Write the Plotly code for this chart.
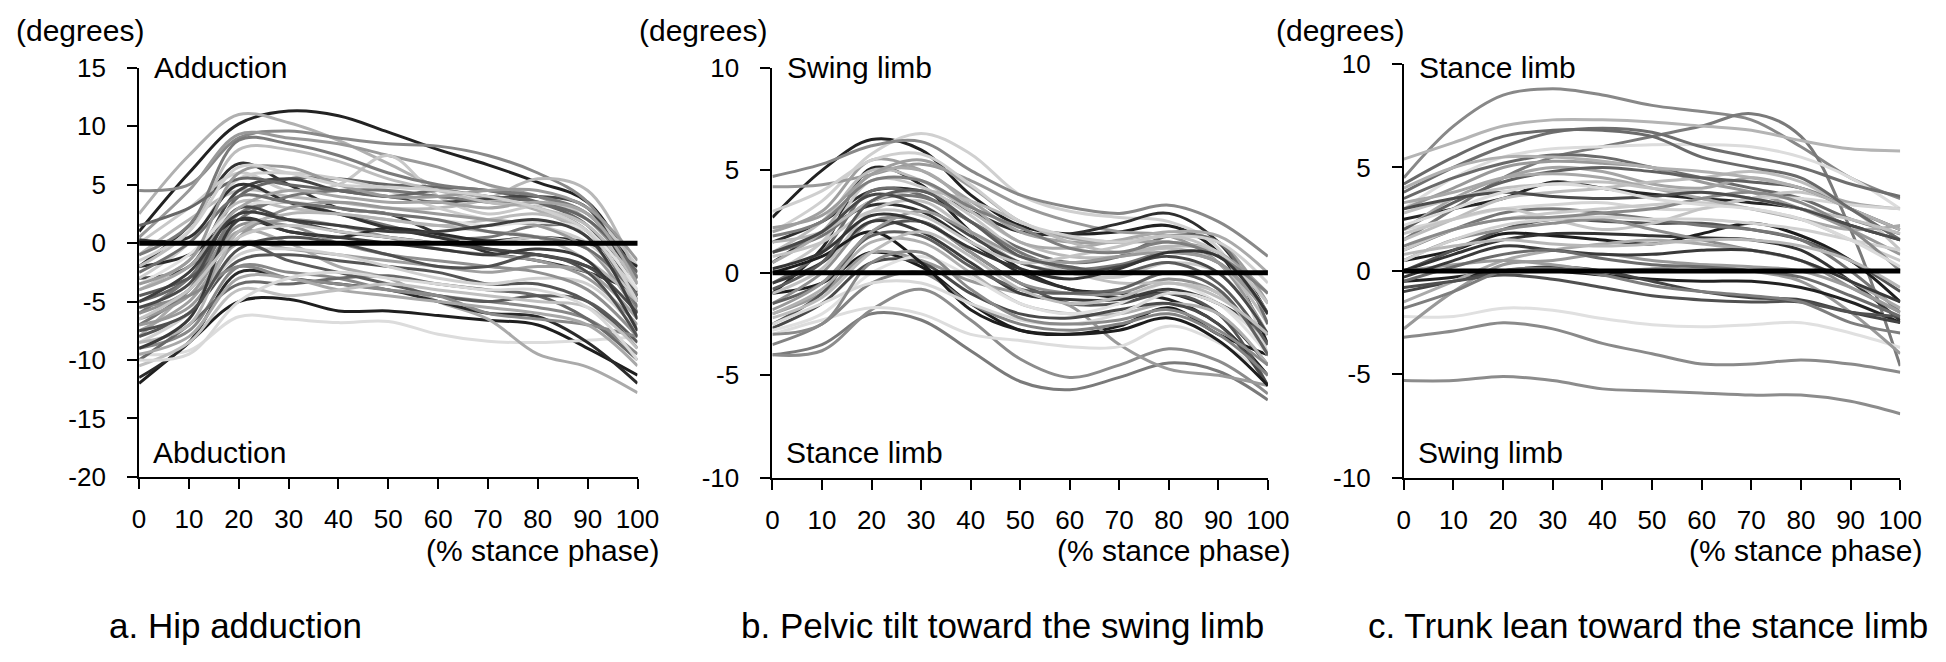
import plotly.graph_objects as go

# target picture is 1946x662; the page keeps its default 8px body margin,
# so the figure itself is 16px smaller and every position is shifted by 8px
W, H = 1946, 662
PAGE_MARGIN = 8
FIG_W, FIG_H = W - 2 * PAGE_MARGIN, H - 2 * PAGE_MARGIN
FONT = 'Liberation Sans, Arial, sans-serif'

stance_pct = [0, 10, 20, 30, 40, 50, 60, 70, 80, 90, 100]
tick_vals_x = [0, 10, 20, 30, 40, 50, 60, 70, 80, 90, 100]

# a. hip adduction (degrees), one row per subject
hip_curves = [
    [1.0, 6.0, 10.2, 11.3, 10.9, 9.5, 8.0, 6.7, 5.2, 3.5, -3.0],
    [2.5, 7.5, 11.0, 10.3, 8.8, 6.8, 4.8, 3.8, 2.8, 0.5, -6.0],
    [4.5, 5.0, 9.0, 9.6, 9.0, 8.5, 8.3, 7.5, 6.0, 3.5, -3.5],
    [0.5, 4.5, 9.3, 9.0, 8.5, 7.5, 6.5, 5.0, 4.0, 2.0, -3.0],
    [-2.0, 1.5, 6.8, 5.0, 3.0, 2.5, 0.8, -0.8, -1.5, -2.5, -4.2],
    [0.0, 3.0, 6.0, 4.5, 5.0, 7.5, 4.0, 2.5, 3.2, 2.5, -2.0],
    [-12.0, -8.5, -5.0, -4.8, -5.8, -5.8, -6.2, -6.6, -7.0, -9.0, -11.3],
    [-9.5, -9.2, -6.3, -6.5, -6.8, -6.7, -7.8, -8.4, -8.5, -8.3, -8.0],
    [-8.0, -4.0, 1.0, 0.0, -2.0, -3.0, -5.0, -6.5, -9.5, -10.6, -12.8],
    [-11.5, -8.5, -2.5, -3.0, -3.5, -4.0, -5.0, -6.0, -6.3, -8.5, -12.0],
    [-1.0, 2.0, 4.5, 4.0, 3.5, 3.0, 3.0, 3.8, 5.5, 4.5, -3.0],
    [-5.0, -3.0, 4.0, 5.5, 5.5, 5.0, 4.8, 4.5, 3.5, 1.5, -4.5],
    [-3.0, -2.0, 4.5, 5.5, 4.5, 4.0, 3.5, 3.8, 4.0, 3.0, -5.0],
    [-7.0, -4.0, 2.5, 3.5, 2.5, 1.5, 0.5, 0.5, 1.5, 1.0, -6.0],
    [-6.5, -4.5, 1.0, 2.0, 1.5, 0.5, -0.5, -1.0, -1.5, -3.0, -7.0],
    [-4.0, -1.5, 3.5, 3.0, 2.5, 2.0, 1.5, 2.0, 2.5, 1.0, -5.5],
    [-8.0, -6.0, -1.5, -1.0, -1.5, -2.0, -2.5, -3.5, -3.5, -5.0, -9.0],
    [-9.0, -7.5, -2.0, -2.5, -3.0, -4.0, -4.5, -5.0, -5.5, -6.5, -9.5],
    [-3.0, 0.0, 5.5, 6.0, 5.5, 4.5, 3.0, 2.0, 1.5, 0.0, -4.0],
    [-10.0, -7.0, -3.5, -3.5, -3.0, -2.8, -3.5, -4.0, -4.5, -6.5, -10.0],
    [-7.5, -5.0, 0.0, -0.5, -1.0, -1.5, -2.0, -2.5, -2.0, -2.5, -6.5],
    [0.3, 0.5, 5.0, 3.5, 2.5, 1.3, 0.5, -0.5, -1.0, -2.0, -4.5],
    [-2.0, -1.0, 2.0, 1.0, 0.5, 1.3, 0.8, 0.2, 0.5, 0.0, -2.0],
    [-6.0, -3.0, 2.0, 4.0, 4.5, 4.5, 4.0, 3.5, 3.0, 1.0, -5.5],
    [-7.0, -5.5, 0.5, 3.0, 3.5, 3.0, 2.5, 2.0, 1.5, -0.5, -6.0],
    [-8.5, -6.0, -1.0, -0.5, -1.0, -2.0, -3.0, -3.5, -3.0, -3.5, -7.5],
    [-4.5, -3.0, 0.0, -1.5, -2.5, -3.5, -4.5, -5.0, -4.5, -5.0, -8.5],
    [-5.5, -4.5, -2.0, -3.0, -3.5, -4.0, -4.5, -6.0, -6.5, -7.0, -8.0],
    [-2.0, 1.0, 8.0, 8.0, 7.0, 5.5, 4.5, 3.5, 3.0, 1.5, -3.5],
    [-1.0, 1.5, 8.8, 8.5, 7.5, 6.0, 5.0, 4.5, 4.0, 2.5, -3.0],
    [-3.5, -1.0, 3.0, 3.5, 3.0, 2.5, 2.0, 1.5, 1.8, 1.0, -4.0],
    [-5.5, -3.5, 3.0, 2.0, 1.0, 0.5, 0.0, -0.5, -1.0, -2.0, -6.0],
    [-9.5, -8.0, -3.0, -3.0, -4.0, -4.5, -5.0, -5.5, -6.0, -7.0, -10.5],
    [-6.0, -4.0, 1.5, 1.5, 0.0, -1.0, -1.5, -2.0, -2.5, -4.0, -8.0],
    [-10.5, -8.5, -4.0, -4.5, -4.0, -3.5, -4.0, -4.5, -5.0, -5.5, -9.0],
    [1.5, 3.0, 5.5, 5.0, 4.5, 4.0, 4.5, 4.0, 3.5, 2.0, -2.5],
    [-8.5, -7.0, 1.0, 2.5, 2.5, 2.0, 1.5, 1.0, 0.5, -1.5, -5.0],
    [-9.0, -6.5, 2.0, 1.0, 0.5, 0.0, -0.5, -1.0, -0.5, -1.5, -7.5],
    [-4.0, -2.0, 3.0, 4.5, 4.0, 3.5, 3.5, 3.0, 3.5, 2.5, -3.5],
    [-6.5, -4.0, 0.5, 1.5, 1.0, 0.5, 0.0, 0.0, 0.5, -0.5, -5.0],
    [-2.5, 0.0, 4.0, 3.5, 3.0, 2.5, 2.0, 1.0, 0.5, -0.5, -4.5],
    [-7.5, -6.0, -0.5, 0.5, 0.0, -1.0, -2.0, -2.0, -1.0, -2.5, -8.0],
    [-3.5, -1.5, 6.0, 6.5, 5.0, 4.0, 4.0, 4.5, 4.5, 3.0, -1.5],
    [-10.0, -9.5, -5.0, -3.0, -2.5, -3.0, -3.5, -4.0, -4.0, -5.5, -10.0],
    [-5.0, -2.5, 2.5, 2.0, 1.5, 1.0, 1.0, 1.5, 2.0, 0.5, -6.5],
    [-1.5, 1.0, 6.5, 6.0, 5.0, 4.8, 4.5, 4.0, 3.0, 1.0, -5.0],
]
hip_colors = [
    '#222222', '#b0b0b0', '#888888', '#999999', '#333333', '#c8c8c8', '#1e1e1e', '#dcdcdc',
    '#aaaaaa', '#2a2a2a', '#b8b8b8', '#666666', '#444444', '#777777', '#999999', '#bbbbbb',
    '#555555', '#888888', '#cccccc', '#6a6a6a', '#a0a0a0', '#333333', '#2b2b2b', '#777777',
    '#999999', '#d0d0d0', '#5a5a5a', '#8a8a8a', '#bdbdbd', '#7a7a7a', '#e0e0e0', '#4a4a4a',
    '#a8a8a8', '#909090', '#c0c0c0', '#666666', '#b5b5b5', '#3a3a3a', '#a5a5a5', '#c5c5c5',
    '#707070', '#505050', '#9a9a9a', '#d8d8d8', '#3e3e3e', '#cfcfcf',
]

# b. pelvic tilt toward the swing limb (degrees)
pelvis_curves = [
    [2.7, 5.0, 6.5, 6.0, 3.8, 2.3, 1.9, 2.0, 2.3, 1.0, -3.5],
    [2.0, 3.5, 5.8, 6.8, 5.8, 3.8, 3.0, 2.7, 2.5, 1.2, -4.0],
    [4.7, 5.3, 6.2, 6.4, 5.0, 3.8, 3.2, 2.9, 3.3, 2.5, 0.8],
    [4.2, 4.3, 4.8, 5.3, 4.5, 3.3, 2.5, 2.0, 1.8, 0.5, -3.0],
    [-1.0, 1.2, 5.1, 4.3, 2.0, 0.2, -0.8, -1.0, -1.3, -2.5, -5.0],
    [0.5, 2.0, 3.3, 3.0, 1.5, 0.0, -0.8, -1.2, -1.0, -2.0, -4.5],
    [-1.0, -0.5, 1.0, 0.3, -1.5, -2.8, -3.0, -2.6, -1.7, -3.0, -4.0],
    [-4.0, -3.5, -2.0, -2.3, -3.8, -5.3, -5.7, -5.1, -4.4, -4.8, -6.2],
    [-4.0, -3.8, -1.8, -0.8, -2.3, -4.2, -5.1, -4.5, -3.7, -4.3, -5.9],
    [-2.0, -1.0, 1.0, 0.6, -0.4, -1.0, -1.6, -3.5, -4.7, -5.0, -5.5],
    [-3.0, -2.3, -1.7, -2.0, -3.0, -3.3, -3.6, -3.6, -2.6, -3.4, -5.0],
    [1.5, 2.5, 4.0, 4.0, 3.0, 2.0, 1.9, 2.4, 2.9, 1.5, -2.0],
    [2.0, 3.0, 5.5, 5.0, 3.5, 2.0, 1.5, 1.5, 1.8, 1.5, -1.5],
    [1.0, 2.5, 5.0, 4.5, 3.0, 1.5, 0.8, 0.8, 1.2, 0.5, -2.5],
    [-0.5, 1.0, 4.0, 3.8, 2.5, 1.2, 0.5, 0.8, 1.8, 1.5, -2.5],
    [0.0, 1.5, 4.5, 4.2, 2.8, 1.0, 0.0, -0.2, 0.5, 0.0, -3.0],
    [-2.5, -1.0, 2.0, 2.5, 1.0, -0.5, -1.5, -1.5, -1.0, -2.0, -5.5],
    [-1.5, 0.0, 2.5, 2.5, 1.0, -0.5, -1.0, -1.0, -0.3, -1.0, -3.5],
    [-2.0, -0.8, 1.5, 1.5, 0.0, -1.5, -2.0, -2.0, -1.5, -2.0, -4.5],
    [-2.7, -1.5, 0.5, 0.5, -1.0, -2.0, -2.2, -1.8, -1.5, -2.5, -5.5],
    [-2.8, -2.0, 0.0, 0.8, -0.2, -1.5, -2.0, -1.5, -0.5, -1.5, -4.0],
    [1.0, 1.8, 3.5, 3.7, 2.5, 1.0, 0.2, 0.4, 1.0, 0.5, -2.0],
    [0.5, 2.0, 4.8, 5.0, 3.3, 1.5, 1.2, 1.6, 2.0, 1.8, 0.0],
    [-0.5, 0.5, 2.5, 2.0, 0.5, -1.0, -1.3, -1.3, -0.8, -1.5, -3.0],
    [-1.0, 0.2, 3.0, 3.5, 2.0, 0.5, 0.0, -0.5, -0.5, -1.0, -4.0],
    [-3.5, -2.5, -0.5, 0.0, -1.5, -2.5, -2.8, -2.5, -2.0, -3.0, -5.0],
    [0.0, 0.8, 2.0, 0.5, -1.8, -2.8, -3.0, -2.8, -2.2, -3.3, -5.5],
    [2.2, 2.8, 4.8, 5.5, 4.2, 2.5, 1.7, 1.5, 1.5, 1.0, -1.0],
    [-2.5, -1.5, -0.5, -0.5, -1.5, -2.3, -2.5, -2.0, -1.0, -1.5, -3.5],
    [-1.5, -0.5, 1.8, 1.8, 0.3, -0.8, -1.0, -0.8, 0.0, -0.8, -4.0],
    [1.5, 2.0, 3.5, 4.0, 3.5, 2.5, 1.5, 1.0, 1.3, 1.0, -2.0],
    [-3.0, -2.5, 0.5, 1.0, -0.8, -2.2, -2.5, -2.3, -1.8, -2.8, -4.5],
    [1.0, 2.0, 3.8, 3.3, 1.8, 0.5, 0.0, 0.3, 0.8, 0.0, -3.0],
    [3.0, 4.0, 5.5, 5.8, 4.3, 2.5, 1.8, 1.5, 1.8, 1.5, -0.5],
    [-1.8, -0.5, 2.0, 3.0, 2.0, 0.8, 0.5, 0.8, 1.0, 0.5, -2.0],
    [0.8, 1.5, 3.0, 2.8, 1.5, 0.5, 0.8, 1.3, 1.8, 1.0, -1.5],
    [-0.8, 0.5, 3.5, 4.0, 2.5, 0.8, 0.3, 0.0, 0.5, -0.5, -3.5],
    [1.8, 2.5, 4.5, 4.5, 3.2, 2.2, 1.2, 1.0, 1.5, 0.8, -1.0],
    [-2.2, -1.2, 1.0, 2.0, 0.8, -0.8, -1.5, -1.2, -0.5, -1.2, -3.0],
    [0.2, 1.0, 2.8, 2.5, 1.2, 0.2, -0.3, 0.2, 1.0, 0.8, -2.0],
]
pelvis_colors = [
    '#222222', '#d0d0d0', '#888888', '#999999', '#262626', '#303030', '#1c1c1c', '#7a7a7a',
    '#8c8c8c', '#9a9a9a', '#dddddd', '#2e2e2e', '#a0a0a0', '#bbbbbb', '#6e6e6e', '#c8c8c8',
    '#555555', '#909090', '#b0b0b0', '#4a4a4a', '#e0e0e0', '#767676', '#aaaaaa', '#3c3c3c',
    '#c0c0c0', '#838383', '#1e1e1e', '#9e9e9e', '#d8d8d8', '#606060', '#b8b8b8', '#8a8a8a',
    '#484848', '#cfcfcf', '#999999', '#c4c4c4', '#5c5c5c', '#7e7e7e', '#bcbcbc', '#353535',
]

# c. trunk lean toward the stance limb (degrees)
trunk_curves = [
    [4.5, 7.0, 8.5, 8.8, 8.5, 8.0, 7.7, 7.3, 6.0, 4.5, 3.5],
    [1.5, 3.0, 4.5, 5.5, 6.0, 6.5, 7.0, 7.6, 6.5, 2.0, -4.6],
    [5.4, 6.2, 7.0, 7.3, 7.3, 7.2, 7.0, 6.8, 6.3, 5.9, 5.8],
    [3.0, 4.5, 5.5, 5.9, 6.0, 6.1, 6.1, 6.0, 5.5, 4.5, 3.0],
    [-2.2, -2.2, -1.8, -1.9, -2.3, -2.6, -2.7, -2.6, -2.5, -3.0, -3.7],
    [-3.2, -2.9, -2.5, -2.8, -3.5, -4.0, -4.5, -4.5, -4.3, -4.5, -4.9],
    [-5.3, -5.3, -5.1, -5.3, -5.7, -5.8, -5.9, -6.0, -6.0, -6.3, -6.9],
    [-2.8, -1.0, 0.3, 0.5, 0.8, 0.5, 0.3, 0.0, -0.5, -2.0, -4.0],
    [-0.5, -0.3, 0.0, 0.0, -0.2, -0.4, -0.5, -0.5, -0.8, -1.5, -2.5],
    [-1.0, -0.5, 0.0, 0.2, 0.0, -0.5, -1.0, -1.3, -1.4, -2.0, -2.5],
    [0.5, 1.0, 1.8, 1.7, 1.5, 1.3, 1.8, 2.3, 1.7, 0.5, -1.5],
    [2.5, 3.0, 3.5, 4.3, 4.0, 3.7, 3.5, 3.3, 3.0, 2.2, 1.5],
    [3.5, 4.5, 5.2, 5.6, 5.5, 5.0, 4.5, 4.0, 3.5, 2.5, 1.8],
    [3.0, 4.0, 5.0, 5.3, 5.2, 5.0, 4.3, 3.8, 3.0, 2.0, 0.8],
    [2.0, 3.5, 4.5, 5.0, 4.8, 4.2, 4.0, 4.5, 4.0, 3.3, 3.0],
    [3.8, 5.0, 6.0, 6.7, 6.9, 6.7, 6.0, 5.5, 5.0, 4.2, 3.6],
    [1.5, 2.5, 3.5, 3.8, 4.0, 4.3, 4.5, 4.8, 4.3, 3.0, 2.0],
    [2.0, 2.5, 3.0, 3.2, 3.3, 3.0, 3.0, 3.5, 3.5, 3.2, 3.0],
    [0.0, 1.0, 2.0, 2.5, 2.4, 2.3, 2.3, 2.0, 1.5, 0.5, -1.0],
    [1.0, 2.0, 2.8, 3.0, 2.8, 2.5, 2.2, 2.0, 1.5, 0.0, -2.0],
    [1.8, 2.5, 3.0, 2.5, 2.0, 2.3, 3.0, 3.5, 3.8, 3.0, 1.0],
    [0.0, 0.8, 1.5, 1.8, 1.8, 1.7, 1.6, 1.5, 1.0, -0.5, -2.4],
    [0.5, 1.5, 2.0, 2.3, 2.5, 2.0, 1.5, 1.0, 0.5, -0.8, -2.0],
    [-1.5, -0.5, 0.5, 1.0, 1.3, 1.5, 1.3, 1.0, 0.5, -0.5, -1.8],
    [-0.8, -0.5, -0.2, -0.4, -0.8, -1.2, -1.4, -1.5, -1.5, -2.0, -2.2],
    [0.0, 0.3, 0.5, 0.3, 0.0, 0.1, 0.3, 0.2, 0.0, -0.8, -2.0],
    [1.0, 2.0, 2.5, 2.8, 3.0, 3.2, 3.3, 3.0, 2.5, 1.5, 0.5],
    [2.0, 3.3, 4.3, 4.8, 5.0, 4.8, 4.5, 4.3, 4.0, 3.0, 2.0],
    [4.0, 5.0, 5.5, 5.5, 5.3, 5.0, 4.8, 4.5, 4.0, 3.0, 2.0],
    [-0.3, 0.5, 1.2, 1.0, 0.8, 0.8, 1.0, 1.0, 0.5, -0.5, -1.5],
    [0.5, 1.5, 2.2, 2.5, 2.6, 2.5, 2.5, 2.3, 2.0, 1.5, 1.0],
    [-1.8, -1.0, 0.0, 0.1, -0.2, -0.7, -1.0, -1.2, -1.5, -2.5, -3.0],
    [3.3, 3.8, 4.5, 4.7, 4.5, 4.0, 3.5, 3.0, 2.5, 2.0, 2.2],
    [4.2, 5.5, 6.5, 6.8, 6.8, 6.5, 5.5, 5.0, 4.5, 3.0, 1.5],
    [2.8, 3.5, 4.0, 4.2, 4.3, 4.0, 3.8, 3.5, 3.0, 2.5, 1.8],
    [1.2, 2.0, 2.5, 2.6, 2.8, 3.0, 3.5, 3.8, 3.3, 2.0, 0.0],
    [3.0, 3.5, 3.8, 3.6, 3.5, 3.6, 3.8, 3.5, 3.0, 2.2, 1.5],
    [0.8, 1.2, 1.5, 1.3, 1.2, 1.3, 1.5, 1.5, 1.2, 0.5, -0.8],
    [-0.5, 0.2, 0.8, 1.0, 0.6, 0.3, 0.2, 0.0, -0.3, -1.2, -2.2],
    [2.2, 3.0, 3.8, 4.2, 4.0, 3.5, 3.2, 3.0, 2.5, 1.5, 0.2],
]
trunk_colors = [
    '#888888', '#7a7a7a', '#b4b4b4', '#dcdcdc', '#e0e0e0', '#8a8a8a', '#8c8c8c', '#999999',
    '#222222', '#444444', '#1e1e1e', '#262626', '#6a6a6a', '#999999', '#a5a5a5', '#6e6e6e',
    '#bdbdbd', '#d5d5d5', '#555555', '#777777', '#c5c5c5', '#333333', '#8e8e8e', '#aaaaaa',
    '#505050', '#9c9c9c', '#cacaca', '#606060', '#b0b0b0', '#3a3a3a', '#d0d0d0', '#7e7e7e',
    '#a8a8a8', '#6a6a6a', '#c0c0c0', '#8a8a8a', '#4c4c4c', '#b8b8b8', '#6c6c6c', '#dadada',
]

panels = [
    # curves, colors, y range, y ticks, top label, bottom label, caption
    (hip_curves, hip_colors, [-20, 15], [-20, -15, -10, -5, 0, 5, 10, 15],
     'Adduction', 'Abduction', 'a. Hip adduction'),
    (pelvis_curves, pelvis_colors, [-10, 10], [-10, -5, 0, 5, 10],
     'Swing limb', 'Stance limb', 'b. Pelvic tilt toward the swing limb'),
    (trunk_curves, trunk_colors, [-10, 10], [-10, -5, 0, 5, 10],
     'Stance limb', 'Swing limb', 'c. Trunk lean toward the stance limb'),
]

# pixel boxes of each plot area in the picture (left, right, top, bottom)
boxes = [(134, 640, 55, 484), (777, 1280, 55, 485), (1418, 1922, 51, 485)]
degree_x = [8, 640, 1287]
caption_x = [102, 744, 1381]


def px(x):
    return (x - PAGE_MARGIN) / FIG_W


def py(y):
    return 1 - (y - PAGE_MARGIN) / FIG_H


fig = go.Figure()
annotations = []
shapes = []

for i, (curves, colors, yr, yt, top_lab, bot_lab, caption) in enumerate(panels):
    n = '' if i == 0 else str(i + 1)
    xa, ya = 'x' + n, 'y' + n
    for c, col in zip(curves, colors):
        fig.add_trace(go.Scatter(x=stance_pct, y=c, mode='lines', xaxis=xa, yaxis=ya,
                                 line=dict(color=col, width=3, shape='spline', smoothing=1.0),
                                 showlegend=False, hoverinfo='skip'))
    left, right, top, bottom = boxes[i]
    axis_common = dict(showgrid=False, zeroline=False, showline=True, linecolor='black',
                       linewidth=2, ticks='outside', ticklen=10, tickwidth=2, tickcolor='black',
                       tickfont=dict(family=FONT, size=26, color='black'))
    fig.layout['xaxis' + n] = dict(domain=[px(left), px(right)], range=[0, 100],
                                   tickvals=tick_vals_x, anchor=ya,
                                   ticklabelstandoff=8, **axis_common)
    fig.layout['yaxis' + n] = dict(domain=[py(bottom), py(top)], range=yr, tickvals=yt,
                                   ticktext=[str(v) for v in yt],
                                   anchor=xa, ticklabelstandoff=16, **axis_common)
    shapes.append(dict(type='line', xref=xa, yref=ya, x0=0, x1=100.5, y0=0, y1=0,
                       line=dict(color='black', width=5), layer='above'))

    annotations += [
        dict(text='(degrees)', x=px(degree_x[i]), y=py(16), xanchor='left', yanchor='middle',
             font=dict(size=30)),
        dict(text=top_lab, x=px(left + 14), y=py(55), xanchor='left', yanchor='middle',
             font=dict(size=30)),
        dict(text=bot_lab, x=px(left + 13), y=py(458), xanchor='left', yanchor='middle',
             font=dict(size=30)),
        dict(text='(% stance phase)', x=px(right + 23), y=py(561), xanchor='right',
             yanchor='middle', font=dict(size=30)),
        dict(text=caption, x=px(caption_x[i]), y=py(640), xanchor='left', yanchor='middle',
             font=dict(size=35)),
    ]

for a in annotations:
    a.update(xref='paper', yref='paper', showarrow=False, borderpad=0)
    a['font'].update(family=FONT, color='black')

fig.update_layout(width=FIG_W, height=FIG_H, margin=dict(l=0, r=0, t=0, b=0),
                  plot_bgcolor='white', paper_bgcolor='white',
                  annotations=annotations, shapes=shapes)

fig.write_html("out.html", config={'displayModeBar': False})
